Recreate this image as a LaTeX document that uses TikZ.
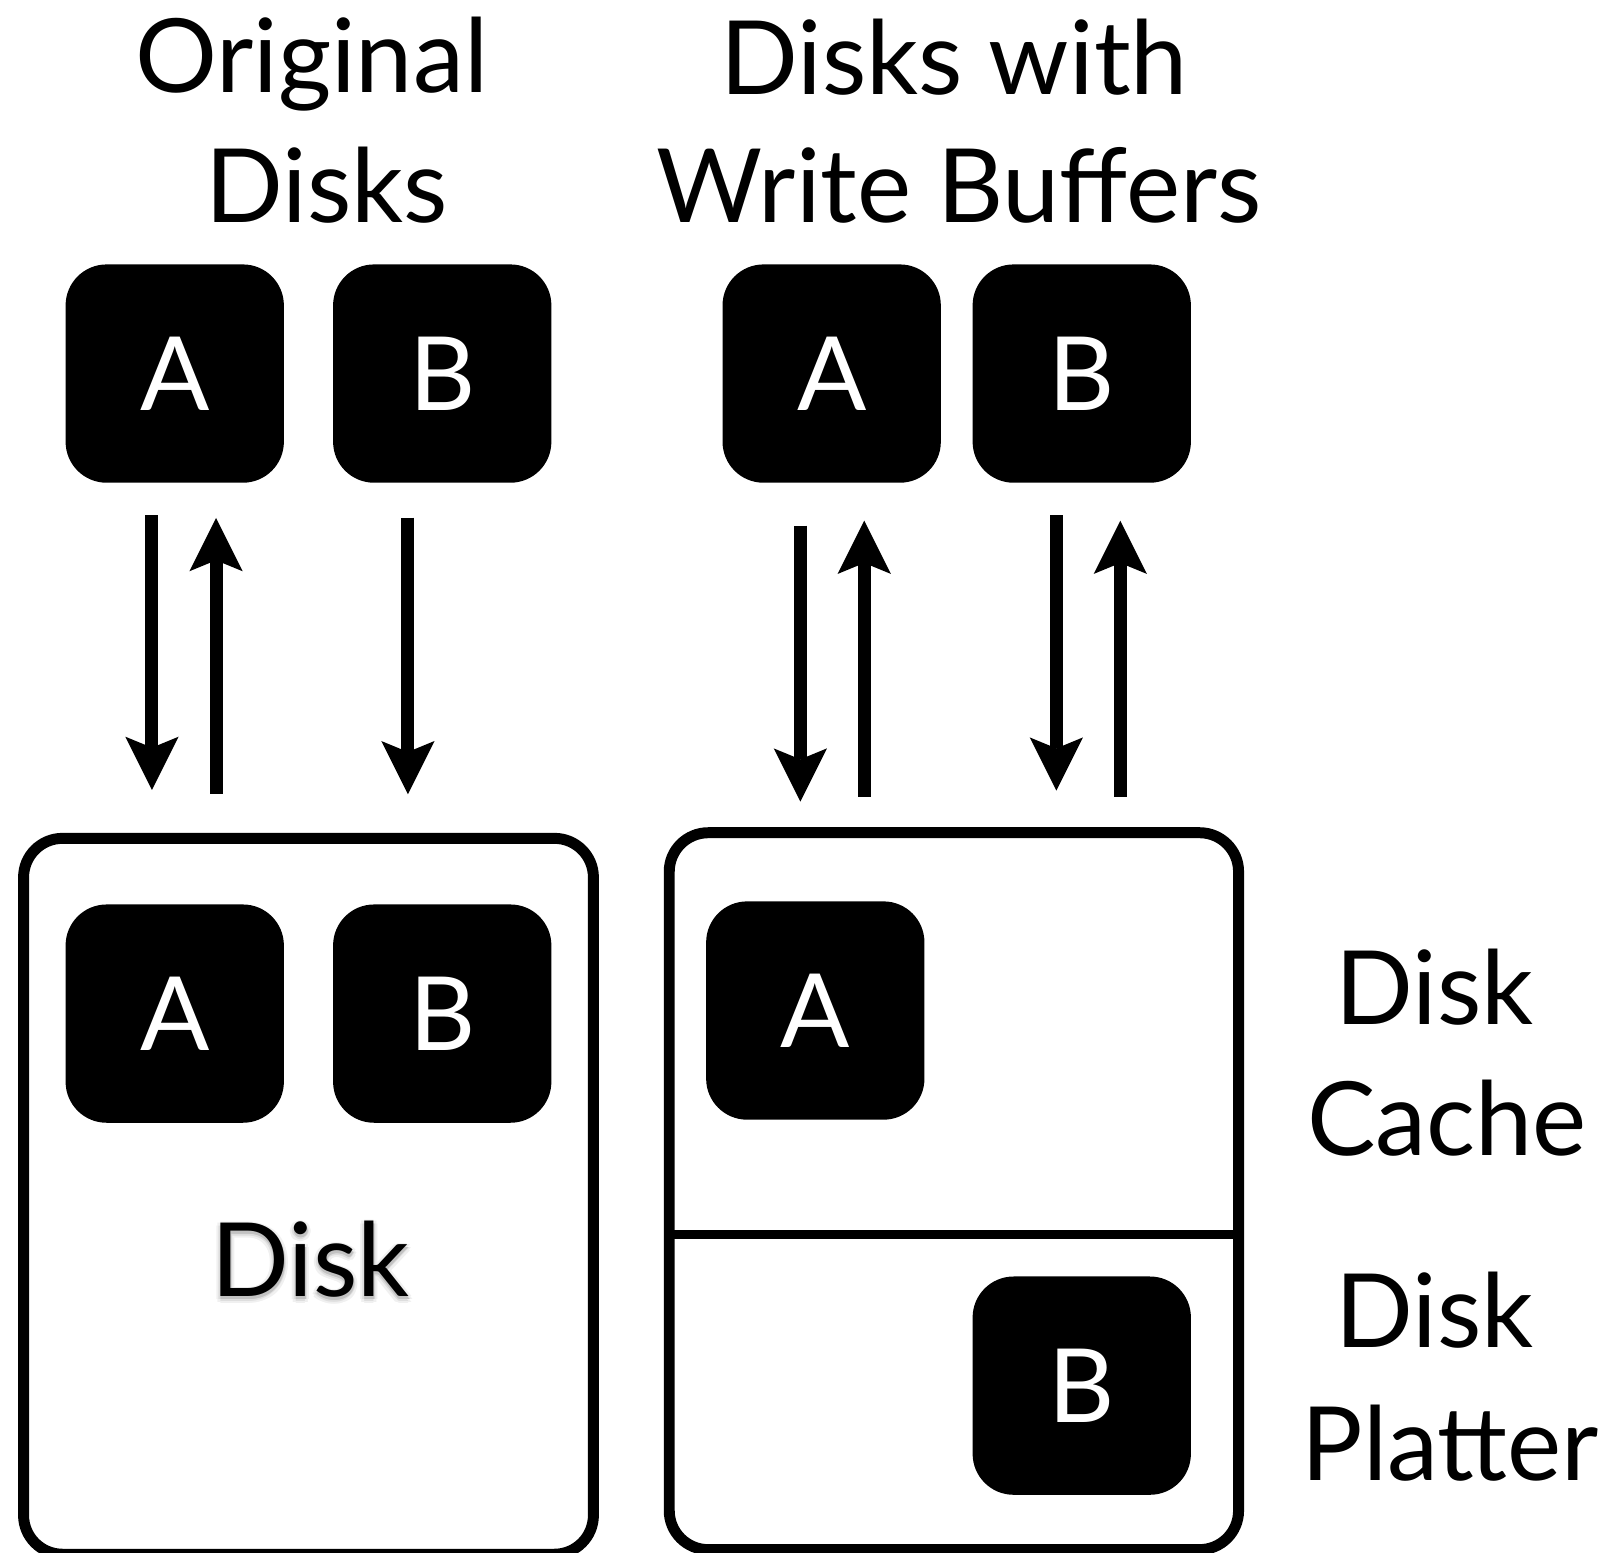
\documentclass[tikz,border=0pt]{standalone}
\usepackage{fontspec}
\setmainfont{Lato}
\usetikzlibrary{arrows.meta}
% one offset grey copy of a text, taking no width
\newcommand\shcopy[4]{\rlap{\hspace*{#1pt}\raisebox{#2pt}{\textcolor{#3}{#4}}}}
% text with a soft drop shadow, built from layered grey copies
\newcommand\softshadow[1]{%
  \shcopy{-4}{-3}{black!6}{#1}\shcopy{4}{-3}{black!6}{#1}%
  \shcopy{0}{-7}{black!6}{#1}\shcopy{0}{1}{black!6}{#1}%
  \shcopy{-3}{-6}{black!6}{#1}\shcopy{3}{-6}{black!6}{#1}%
  \shcopy{-3}{0}{black!6}{#1}\shcopy{3}{0}{black!6}{#1}%
  \shcopy{-2}{-3}{black!13}{#1}\shcopy{2}{-3}{black!13}{#1}%
  \shcopy{0}{-5}{black!13}{#1}\shcopy{0}{-1}{black!13}{#1}%
  \shcopy{0}{-3}{black!24}{#1}\shcopy{1}{-3}{black!24}{#1}%
  #1}
\begin{document}
\begin{tikzpicture}[x=1pt,y=-1pt,
  bigfont/.style={font=\fontsize{100}{127}\selectfont},
  lbl/.style={bigfont, anchor=base, inner sep=0pt},
  blk/.style={bigfont, fill=black, text=white, rounded corners=40pt,
    minimum width=213pt, minimum height=213pt, inner sep=0pt},
  frame/.style={draw=black, line width=10.7pt, rounded corners=38pt, inner sep=0pt},
  divider/.style={line width=9pt},
  arr/.style={line width=12.7pt,
    -{Stealth[length=52pt, width=52pt, inset=10.7pt, line width=0pt]}},
]
\useasboundingbox (0,0) rectangle (1568,1515);

% column titles
\node[lbl] (t1a) at (304,90) {Original};
\node[lbl] (t1b) at (319,217) {Disks};
\node[lbl] (t2a) at (931,92) {Disks with};
\node[lbl] (t2b) at (936,217) {Write Buffers};

% requests issued by the host
\node[blk] (hA1) at (170.5,364.5) {A};
\node[blk] (hB1) at (431.5,364.5) {B};
\node[blk] (hA2) at (811.5,364.5) {A};
\node[blk] (hB2) at (1055.5,364.5) {B};

% plain disk
\node[frame, minimum width=556pt, minimum height=698.5pt] (disk1) at (301,1167.25) {};
\node[blk] (dA1) at (170.5,989) {A};
\node[blk] (dB1) at (431.5,989) {B};
\node[lbl] (disklbl) at (303,1265) {\softshadow{Disk}};

% disk with a write buffer: cache above, platter below
\node[frame, minimum width=555.5pt, minimum height=699.5pt] (disk2) at (930.75,1162.25) {};
\coordinate (divL) at (653,1204.3);
\coordinate (divR) at (1208.5,1204.3);
\draw[divider] (divL) -- (divR);
\node[blk] (dA2) at (795.5,986) {A};
\node[blk] (dB2) at (1055.5,1352) {B};

% side labels
\node[lbl] (c1) at (1400,1000) {Disk};
\node[lbl] (c2) at (1412,1127) {Cache};
\node[lbl] (p1) at (1400,1315) {Disk};
\node[lbl] (p2) at (1415,1445) {Platter};

% transfer arrows
\coordinate (a1s) at (148.3,502.5);  \coordinate (a1e) at (148.3,770.8);
\coordinate (a2s) at (210.8,774.7);  \coordinate (a2e) at (210.8,505.4);
\coordinate (a3s) at (398,505);      \coordinate (a3e) at (398,775);
\coordinate (a4s) at (780.9,512.9);  \coordinate (a4e) at (780.9,782.2);
\coordinate (a5s) at (843.3,777.3);  \coordinate (a5e) at (843.3,508);
\coordinate (a6s) at (1030.7,502.5); \coordinate (a6e) at (1030.7,771.5);
\coordinate (a7s) at (1093.1,777.3); \coordinate (a7e) at (1093.1,508);
\foreach \i in {1,...,7}{
  \draw[arr] (a\i s) -- (a\i e);
}
\end{tikzpicture}
\end{document}
